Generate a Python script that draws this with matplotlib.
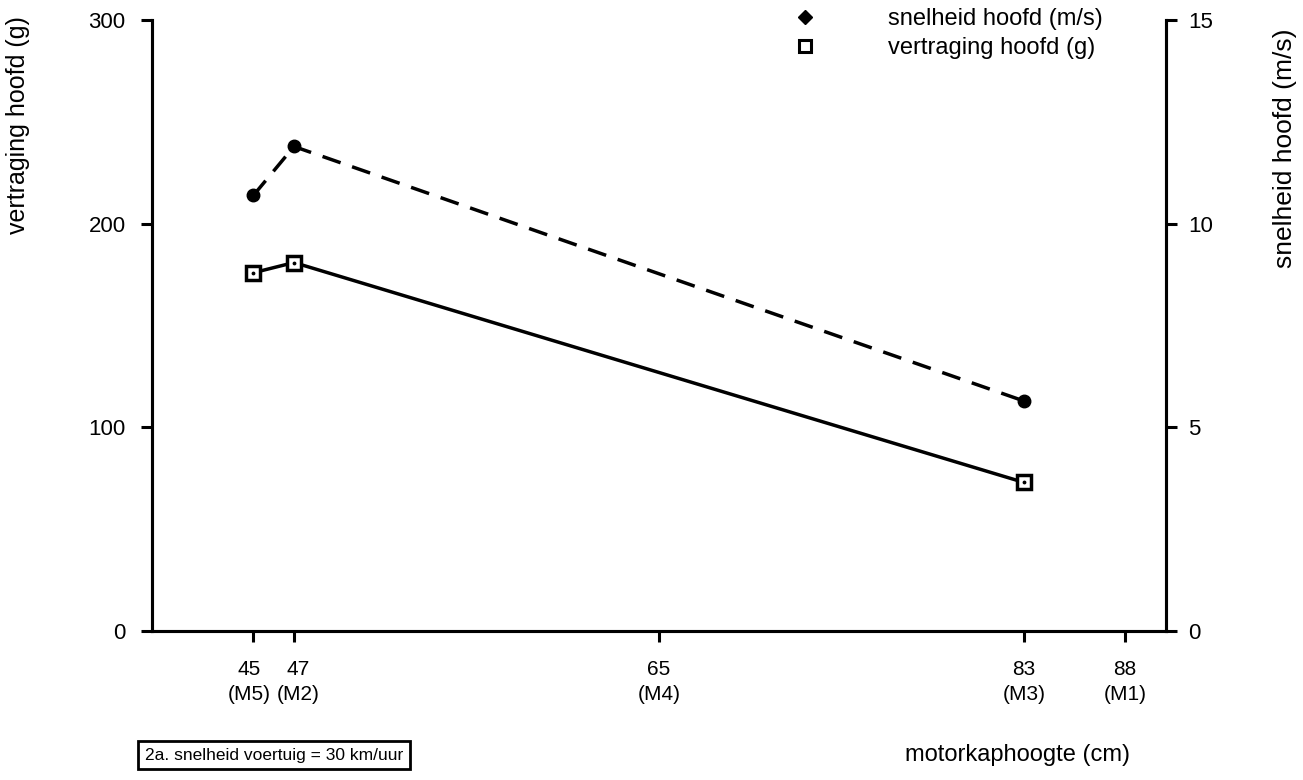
import matplotlib.pyplot as plt
from matplotlib.lines import Line2D
from matplotlib.transforms import ScaledTranslation

plt.rcParams['font.family'] = ['Liberation Sans', 'DejaVu Sans']

# motorkaphoogte (cm) per model
hoogte = [45, 47, 83]
tick_pos = [45, 47, 65, 83, 88]
tick_lab = ['45\n(M5)', '47\n(M2)', '65\n(M4)', '83\n(M3)', '88\n(M1)']

snelheid = [10.7, 11.9, 5.65]      # m/s, rechter as
vertraging = [176, 181, 73]        # g, linker as

fig = plt.figure(figsize=(13.03, 7.8), dpi=100)
ax = fig.add_axes([0.1167, 0.191, 0.778, 0.783])
ax2 = ax.twinx()

ax.plot(hoogte, vertraging, color='black', lw=2.5, marker='s', ms=10,
        mfc='white', mec='black', mew=2.5, zorder=3)
ax.plot(hoogte, vertraging, ls='none', marker='.', ms=3.5, color='black', zorder=4)
ax2.plot(hoogte, snelheid, color='black', lw=2.5, ls=(0, (5.5, 3.5)), marker='o',
         ms=9, mfc='black', mec='black')

ax.set_xlim(40, 90)
ax.set_ylim(0, 300)
ax2.set_ylim(0, 15)
ax.set_yticks([0, 100, 200, 300])
ax2.set_yticks([0, 5, 10, 15])
ax.set_xticks(tick_pos)
ax.set_xticklabels(tick_lab, linespacing=1.4)

for a in (ax, ax2):
    a.spines['top'].set_visible(False)
    for s in a.spines.values():
        s.set_linewidth(2.2)
    a.tick_params(width=2.2, length=8, labelsize=16, pad=8)
ax.tick_params(axis='y', pad=11)
ax.tick_params(axis='x', pad=13, labelsize=15)

# 45 en 47 liggen dicht bij elkaar: labels een klein beetje uit elkaar schuiven
for lab, dx in zip(ax.get_xticklabels(), [-4, 4, 0, 0, 0]):
    lab.set_transform(lab.get_transform() + ScaledTranslation(dx / 100, 0, fig.dpi_scale_trans))

fig.text(0.014, 0.84, 'vertraging hoofd (g)', fontsize=18, rotation=90,
         ha='center', va='center')
fig.text(0.986, 0.81, 'snelheid hoofd (m/s)', fontsize=19, rotation=90,
         ha='center', va='center')

fig.text(0.867, 0.032, 'motorkaphoogte (cm)', fontsize=17, ha='right', va='center')
fig.text(0.111, 0.032, '2a. snelheid voertuig = 30 km/uur', fontsize=12.5, ha='left',
         va='center', bbox=dict(boxstyle='square,pad=0.4', fc='white', ec='black', lw=2))

handles = [Line2D([], [], ls='none', marker='D', ms=7, color='black'),
           Line2D([], [], ls='none', marker='s', ms=8, mfc='white', mec='black', mew=2.2)]
ax.legend(handles, ['snelheid hoofd (m/s)', 'vertraging hoofd (g)'], frameon=False,
          loc='upper left', bbox_to_anchor=(0.6, 1.055), fontsize=17,
          handletextpad=2.5, labelspacing=0.3)

fig.savefig('out.png')
